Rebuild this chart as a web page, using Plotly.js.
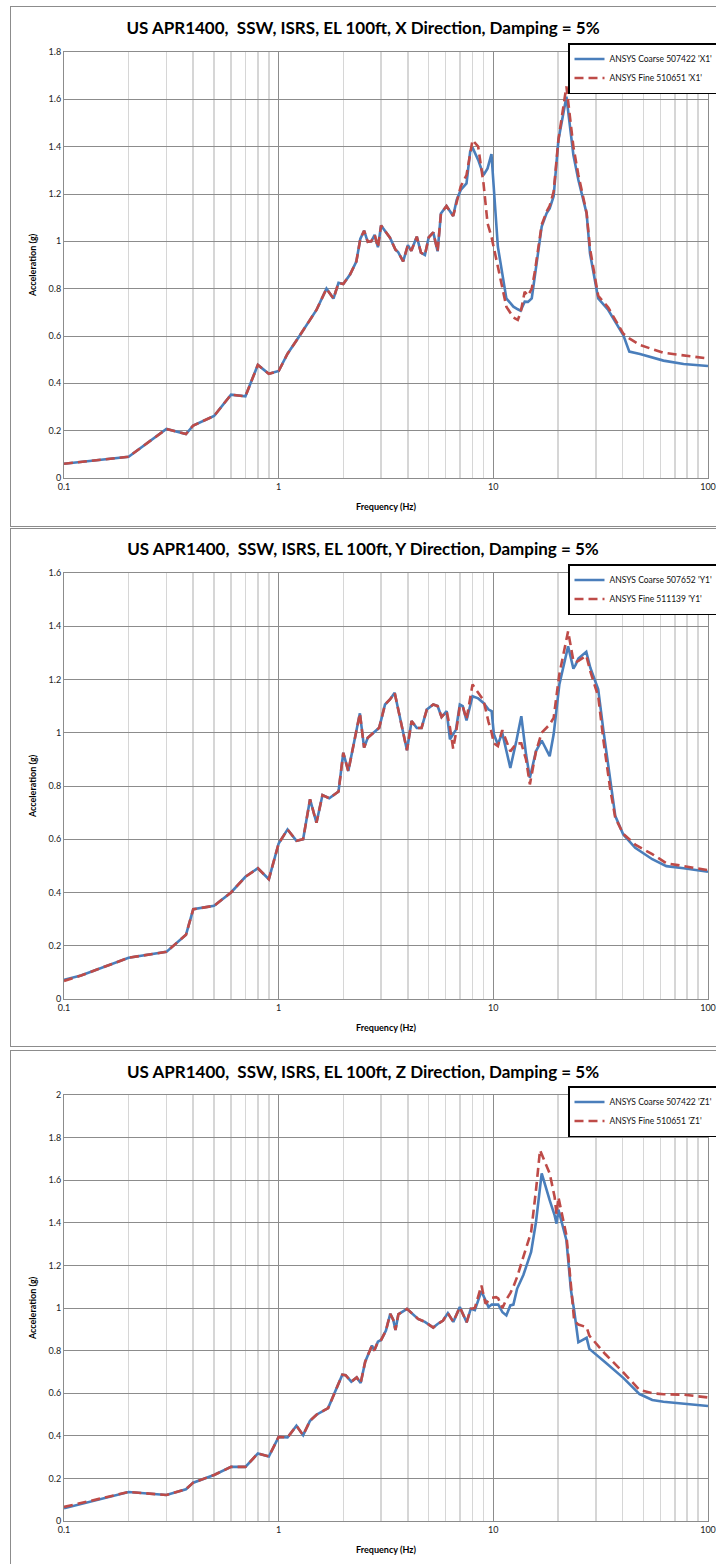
<!DOCTYPE html>
<html><head><meta charset="utf-8">
<script src="https://cdn.plot.ly/plotly-3.0.1.min.js"></script>
<style>
html,body{margin:0;padding:0;background:#fff;overflow:hidden;width:716px;height:1564px;}
.panel{position:absolute;left:10px;border:1px solid #8c8c8c;width:720px;}
</style></head><body>
<div id="p1" class="panel" style="top:6px;height:519px"></div>
<div id="p2" class="panel" style="top:528px;height:517px"></div>
<div id="p3" class="panel" style="top:1050px;height:518px"></div>
<script>
// ---------- Panel 1 : X direction ----------
var freqX = [0.1,0.2,0.3,0.37,0.4,0.5,0.6,0.7,0.8,0.9,
  1.0,1.1,1.25,1.5,1.67,1.8,1.9,2.0,2.15,2.3,
  2.4,2.5,2.6,2.7,2.8,2.9,3.0,3.15,3.3,3.5,
  3.6,3.8,4.0,4.15,4.4,4.6,4.8,5.0,5.25,5.5,
  5.7,6.05,6.5,6.75,7.05,7.5,7.8,8.0,8.5,9.0,
  9.4,9.8,10.5,11.5,12.4,13.0,13.4,14.0,14.5,15.1,
  15.6,16.8,17.7,18.3,19.1,20.1,21.9,23.6,24.9,27.2,
  28.2,30.8,34.3,40.3,43,48.2,62,77,100];
var coarseX = [0.06,0.09,0.207,0.186,0.222,0.262,0.352,0.345,0.478,0.44,
  0.452,0.525,0.6,0.71,0.8,0.758,0.825,0.82,0.86,0.914,
  1.01,1.045,0.998,1.0,1.027,0.975,1.067,1.04,1.015,0.965,
  0.955,0.915,0.984,0.96,1.02,0.952,0.942,1.017,1.038,0.958,
  1.118,1.149,1.107,1.175,1.217,1.245,1.379,1.396,1.344,1.28,
  1.308,1.369,0.977,0.759,0.724,0.713,0.707,0.745,0.744,0.759,
  0.85,1.062,1.118,1.139,1.191,1.428,1.611,1.365,1.259,1.118,
  0.949,0.759,0.71,0.604,0.534,0.524,0.496,0.482,0.473];
var fineX = [0.06,0.09,0.207,0.186,0.222,0.262,0.352,0.345,0.478,0.44,
  0.452,0.525,0.6,0.71,0.8,0.758,0.825,0.82,0.86,0.914,
  1.01,1.045,0.998,1.0,1.027,0.975,1.067,1.04,1.015,0.965,
  0.955,0.915,0.984,0.96,1.02,0.952,0.942,1.017,1.038,0.958,
  1.118,1.149,1.107,1.165,1.232,1.28,1.37,1.428,1.40,1.245,
  1.076,1.02,0.893,0.724,0.678,0.668,0.70,0.787,0.77,0.80,
  0.87,1.07,1.125,1.15,1.21,1.43,1.655,1.40,1.28,1.12,
  0.97,0.77,0.72,0.61,0.59,0.562,0.529,0.518,0.505];

// ---------- Panel 2 : Y direction ----------
var freqY = [0.1,0.12,0.2,0.3,0.37,0.4,0.5,0.6,0.7,0.8,
  0.9,1.0,1.1,1.21,1.3,1.4,1.5,1.6,1.72,1.9,
  2.0,2.11,2.39,2.5,2.6,2.75,2.94,3.13,3.3,3.47,
  3.74,3.96,4.16,4.4,4.63,4.9,5.25,5.5,5.74,6.06,
  6.28,6.5,6.7,6.98,7.2,7.5,8.0,8.5,9.0,9.5,
  9.82,10.06,10.5,11.0,12.0,12.8,13.5,14.2,14.8,15.8,
  16.8,18.3,19.1,20.3,22.3,23.6,24.2,24.9,27.1,28.3,
  30.8,32.6,35,37,40.3,45.8,55,64,77,100];
var coarseY = [0.072,0.088,0.155,0.177,0.241,0.337,0.35,0.40,0.459,0.491,
  0.45,0.584,0.637,0.594,0.60,0.75,0.662,0.766,0.754,0.779,
  0.925,0.856,1.073,0.944,0.981,1.0,1.019,1.106,1.125,1.15,
  1.031,0.934,1.044,1.018,1.018,1.087,1.106,1.10,1.059,1.081,
  0.975,0.995,1.012,1.106,1.10,1.046,1.137,1.129,1.112,1.087,
  1.081,0.994,0.956,1.0,0.868,0.969,1.062,0.919,0.831,0.931,
  0.971,0.912,0.994,1.181,1.325,1.241,1.256,1.279,1.304,1.244,
  1.163,1.006,0.818,0.687,0.618,0.568,0.525,0.499,0.491,0.478];
var fineY = [0.068,0.088,0.155,0.177,0.241,0.337,0.35,0.40,0.459,0.491,
  0.45,0.584,0.637,0.594,0.60,0.75,0.662,0.766,0.754,0.779,
  0.925,0.856,1.073,0.944,0.981,1.0,1.019,1.106,1.125,1.15,
  1.031,0.934,1.044,1.018,1.018,1.087,1.106,1.10,1.059,1.081,
  1.02,0.94,1.0,1.10,1.10,1.05,1.181,1.15,1.122,1.04,
  1.0,0.96,0.95,1.01,0.93,0.96,0.96,0.90,0.806,0.93,
  1.0,1.031,1.056,1.22,1.381,1.27,1.265,1.27,1.29,1.23,
  1.137,0.97,0.79,0.68,0.62,0.58,0.544,0.51,0.499,0.484];

// ---------- Panel 3 : Z direction ----------
var freqZ = [0.1,0.2,0.3,0.37,0.4,0.5,0.6,0.7,0.8,0.9,
  1.0,1.1,1.21,1.3,1.4,1.5,1.7,1.83,1.98,2.05,
  2.18,2.31,2.41,2.53,2.72,2.79,2.9,3.0,3.16,3.31,
  3.42,3.5,3.61,3.96,4.46,4.8,5.25,5.5,5.83,6.14,
  6.51,6.98,7.51,7.85,8.2,8.8,9.2,9.5,9.82,10.3,
  10.54,11.03,11.5,12.0,12.4,12.9,13.8,14.2,15.0,15.8,
  16.5,16.8,18.3,19.3,19.7,20.1,21.9,23.0,23.8,24.9,
  27.2,28.0,33.2,40.3,48,55,62,77,100];
var coarseZ = [0.06,0.136,0.122,0.149,0.18,0.216,0.254,0.254,0.317,0.303,
  0.395,0.392,0.447,0.403,0.471,0.499,0.53,0.604,0.687,0.685,
  0.654,0.674,0.648,0.748,0.824,0.8,0.842,0.85,0.894,0.973,
  0.944,0.897,0.97,0.996,0.949,0.935,0.908,0.925,0.941,0.976,
  0.935,1.004,0.933,0.996,0.99,1.079,1.032,1.004,1.016,1.016,
  1.016,0.98,0.965,1.012,1.016,1.09,1.155,1.192,1.263,1.404,
  null,1.632,1.506,1.435,1.396,1.462,1.318,1.082,0.988,0.839,
  0.86,0.808,0.745,0.672,0.596,0.568,0.56,0.55,0.54];
var fineZ = [0.066,0.136,0.122,0.149,0.18,0.216,0.254,0.254,0.317,0.303,
  0.395,0.392,0.447,0.403,0.471,0.499,0.53,0.604,0.687,0.685,
  0.654,0.674,0.648,0.748,0.824,0.8,0.842,0.85,0.894,0.973,
  0.944,0.897,0.97,0.996,0.949,0.935,0.908,0.925,0.941,0.976,
  0.935,1.004,0.933,0.996,1.0,1.106,1.02,1.035,1.048,1.051,
  1.045,1.0,1.04,1.07,1.10,1.145,1.239,1.27,1.357,1.553,
  1.741,null,1.632,1.521,1.44,1.52,1.341,1.11,0.94,0.922,
  0.91,0.87,0.784,0.698,0.615,0.60,0.595,0.593,0.58];

var titles = [
  "US APR1400,\u00a0 SSW, ISRS, EL 100ft, X Direction, Damping = 5%",
  "US APR1400,\u00a0 SSW, ISRS, EL 100ft, Y Direction, Damping = 5%",
  "US APR1400,\u00a0 SSW, ISRS, EL 100ft, Z Direction, Damping = 5%"];
var coarseNames = ["ANSYS Coarse 507422 'X1'", "ANSYS Coarse 507652 'Y1'", "ANSYS Coarse 507422 'Z1'"];
var fineNames = ["ANSYS Fine 510651 'X1'", "ANSYS Fine 511139 'Y1'", "ANSYS Fine 510651 'Z1'"];
var yMax = [1.8, 1.6, 2.0];
var xTitle = "Frequency (Hz)";
var yTitle = "Acceleration (g)";

var FONT = 'Lato, "Liberation Sans", Arial, sans-serif';
var W = 720, PW = 644, PH = 426, ML = 53;

function draw(id, freq, coarse, fine, k, H, mt, ty) {
  var traces = [
    {x: freq, y: coarse, name: coarseNames[k], type: 'scatter', mode: 'lines', connectgaps: true,
     line: {color: '#4A7EBB', width: 2.6}},
    {x: freq, y: fine, name: fineNames[k], type: 'scatter', mode: 'lines', connectgaps: true,
     line: {color: '#BE4B48', width: 2.6, dash: '9px,5px'}}
  ];
  var layout = {
    width: W, height: H,
    margin: {l: ML, r: W - ML - PW, t: mt, b: H - mt - PH, autoexpand: false},
    paper_bgcolor: '#fff', plot_bgcolor: '#fff',
    showlegend: true,
    font: {family: FONT, color: '#000'},
    title: {text: '<b>' + titles[k] + '</b>', xref: 'container', yref: 'container',
      x: (363 - 11) / W, xanchor: 'center', y: 1 - ty / H, yanchor: 'middle',
      font: {size: 17, family: FONT, color: '#000'}},
    xaxis: {type: 'log', range: [-1, 2], dtick: 1, showgrid: true, gridcolor: '#8c8c8c', gridwidth: 1,
      showline: true, linecolor: '#8c8c8c', linewidth: 1, mirror: true, ticks: '', zeroline: false,
      tickfont: {size: 9, color: '#222'},
      minor: {dtick: 'D1', showgrid: true, gridcolor: '#d6d6d6', gridwidth: 1.5, ticks: ''},
      title: {text: '<b>' + xTitle + '</b>', font: {size: 9, color: '#000'}, standoff: 12},
      automargin: false, fixedrange: true},
    yaxis: {range: [0, yMax[k]], dtick: 0.2, showgrid: true, gridcolor: '#8c8c8c', gridwidth: 1,
      showline: true, linecolor: '#8c8c8c', linewidth: 1, mirror: true, ticks: '', zeroline: false,
      tickfont: {size: 9, color: '#222'},
      title: {text: '<b>' + yTitle + '</b>', font: {size: 9, color: '#000'}, standoff: 10},
      automargin: false, fixedrange: true},
    legend: {x: (568 - 64) / PW, xref: 'paper', xanchor: 'left', y: 1 + 9 / PH, yref: 'paper', yanchor: 'top',
      bordercolor: '#000', borderwidth: 1.5, bgcolor: '#fff', font: {size: 8.5, color: '#111', family: FONT},
      itemwidth: 30, tracegroupgap: 0}
  };
  Plotly.newPlot(id, traces, layout, {staticPlot: true, displayModeBar: false});
}

draw('p1', freqX, coarseX, fineX, 0, 519, 45, 21);
draw('p2', freqY, coarseY, fineY, 1, 517, 44, 20);
draw('p3', freqZ, coarseZ, fineZ, 2, 518, 44, 21);
</script>
</body></html>
